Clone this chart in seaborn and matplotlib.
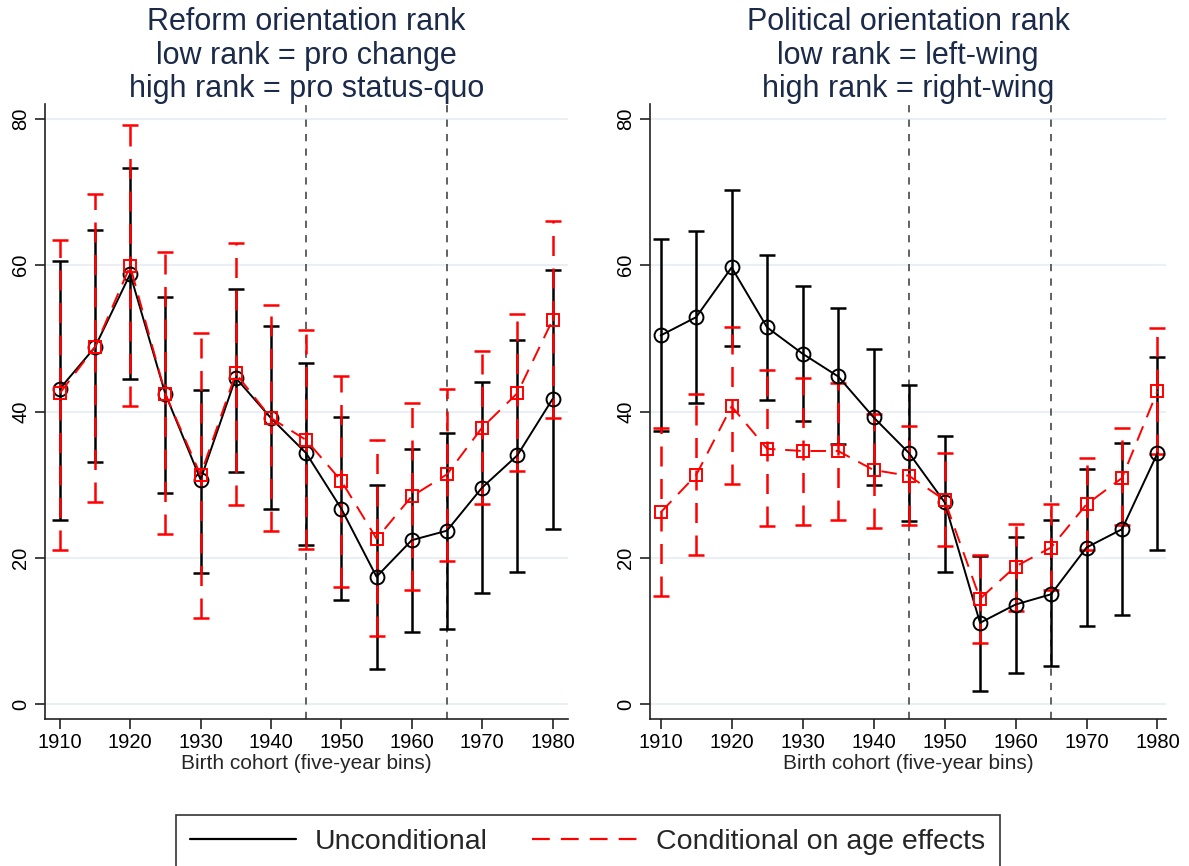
import numpy as np
import pandas as pd
import matplotlib
matplotlib.use("Agg")
import matplotlib.pyplot as plt
from matplotlib.lines import Line2D
import seaborn as sns

# ---------------- data ----------------
cohorts = [1910, 1915, 1920, 1925, 1930, 1935, 1940, 1945, 1950, 1955, 1960, 1965, 1970, 1975, 1980]
xticks = [1910, 1920, 1930, 1940, 1950, 1960, 1970, 1980]
yticks = [0, 20, 40, 60, 80]
breaks = [1945, 1965]

titles = ["Reform orientation rank\nlow rank = pro change\nhigh rank = pro status-quo",
          "Political orientation rank\nlow rank = left-wing\nhigh rank = right-wing"]
xlabel = "Birth cohort (five-year bins)"
series_names = ["Unconditional", "Conditional on age effects"]

left_uncond = [43.1, 48.8, 58.8, 42.4, 30.7, 44.6, 39.1, 34.3, 26.7, 17.4, 22.4, 23.7, 29.6, 34.0, 41.7]
left_uncond_hi = [60.6, 64.8, 73.3, 55.6, 43.0, 56.8, 51.7, 46.7, 39.2, 29.9, 34.9, 37.0, 44.1, 49.8, 59.3]
left_uncond_lo = [25.2, 33.1, 44.4, 28.9, 17.9, 31.7, 26.7, 21.7, 14.2, 4.8, 9.9, 10.2, 15.2, 18.1, 23.9]
left_cond = [42.5, 48.8, 59.9, 42.4, 31.3, 45.2, 39.1, 36.1, 30.5, 22.6, 28.4, 31.4, 37.8, 42.5, 52.5]
left_cond_hi = [63.5, 69.8, 79.2, 61.8, 50.8, 63.0, 54.5, 51.2, 44.9, 36.1, 41.2, 43.1, 48.3, 53.3, 66.0]
left_cond_lo = [21.1, 27.6, 40.7, 23.2, 11.7, 27.2, 23.7, 21.2, 16.0, 9.3, 15.6, 19.6, 27.3, 31.8, 39.1]

right_uncond = [50.4, 52.9, 59.7, 51.5, 47.9, 44.8, 39.2, 34.3, 27.6, 11.1, 13.6, 15.0, 21.4, 23.9, 34.3]
right_uncond_hi = [63.6, 64.7, 70.3, 61.4, 57.2, 54.1, 48.5, 43.6, 36.6, 20.3, 22.9, 25.1, 32.1, 35.7, 47.4]
right_uncond_lo = [37.4, 41.2, 48.9, 41.6, 38.7, 35.5, 30.0, 25.0, 18.0, 1.8, 4.3, 5.2, 10.6, 12.2, 21.1]
right_cond = [26.2, 31.3, 40.7, 34.9, 34.6, 34.6, 32.0, 31.2, 27.9, 14.4, 18.8, 21.4, 27.3, 30.9, 42.8]
right_cond_hi = [37.8, 42.4, 51.5, 45.7, 44.6, 43.9, 39.7, 38.0, 34.3, 20.4, 24.6, 27.3, 33.6, 37.8, 51.4]
right_cond_lo = [14.8, 20.4, 30.1, 24.4, 24.5, 25.2, 24.1, 24.5, 21.6, 8.3, 12.7, 15.6, 21.1, 24.5, 34.2]

# ---------------- style ----------------
sns.set_theme(style="ticks")
plt.rcParams['font.family'] = ['Liberation Sans', 'DejaVu Sans']

W, H = 1189, 866
fig = plt.figure(figsize=(W / 100, H / 100), dpi=100)

def frac_axes(x0, x1, ytop, ybot):
    return [x0 / W, 1 - ybot / H, (x1 - x0) / W, (ybot - ytop) / H]

ax_l = fig.add_axes(frac_axes(45, 568, 104.4, 718.6))
ax_r = fig.add_axes(frac_axes(650, 1166, 104.4, 718.6))

BLACK = "#000000"
RED = "#ff0000"
DASH = (0, (8, 5))
TITLE_C = "#1a2a48"

panels = [
    (ax_l, titles[0], left_uncond, left_uncond_lo, left_uncond_hi,
     left_cond, left_cond_lo, left_cond_hi, (1907.9, 1982.2)),
    (ax_r, titles[1], right_uncond, right_uncond_lo, right_uncond_hi,
     right_cond, right_cond_lo, right_cond_hi, (1908.5, 1981.2)),
]

for ax, title, u, ulo, uhi, c, clo, chi, xl in panels:
    u = np.array(u); ulo = np.array(ulo); uhi = np.array(uhi)
    c = np.array(c); clo = np.array(clo); chi = np.array(chi)
    x = np.array(cohorts)

    for yv in yticks:
        ax.axhline(yv, color="#e9eff5", lw=1.5, zorder=0)
    for b in breaks:
        ax.axvline(b, color="#555555", lw=1.3, ls=(0, (4, 4)), zorder=1)

    # error bars
    ax.errorbar(x, u, yerr=[u - ulo, uhi - u], fmt="none", ecolor=BLACK,
                elinewidth=1.8, capsize=5.5, capthick=1.8, zorder=2)
    eb = ax.errorbar(x, c, yerr=[c - clo, chi - c], fmt="none", ecolor=RED,
                     elinewidth=1.8, capsize=5.5, capthick=1.8, zorder=3)
    eb[2][0].set_linestyle(DASH)

    df_u = pd.DataFrame({"cohort": x, "rank": u})
    df_c = pd.DataFrame({"cohort": x, "rank": c})
    sns.lineplot(data=df_u, x="cohort", y="rank", ax=ax, color=BLACK, lw=1.4,
                 marker="o", markersize=10, mfc="none", mec=BLACK, mew=1.4,
                 legend=False, zorder=4)
    sns.lineplot(data=df_c, x="cohort", y="rank", ax=ax, color=RED, lw=1.4,
                 ls=DASH, marker="s", markersize=9, mfc="none", mec=RED, mew=1.4,
                 legend=False, zorder=5)

    ax.set_xlim(*xl)
    ax.set_ylim(-2, 82)
    ax.set_xticks(xticks)
    ax.set_yticks(yticks)
    ax.set_yticklabels([str(v) for v in yticks], rotation=90, va="center")
    ax.tick_params(axis="both", direction="out", length=7, width=1.2,
                   colors="#222222", labelsize=14.5, labelcolor="black")
    ax.set_xlabel(xlabel, fontsize=15, labelpad=1)
    ax.set_ylabel("")
    for s in ["top", "right"]:
        ax.spines[s].set_visible(False)
    for s in ["left", "bottom"]:
        ax.spines[s].set_color("#222222")
        ax.spines[s].set_linewidth(1.2)
    ax.set_title(title, fontsize=22, color=TITLE_C, linespacing=1.15, pad=3)

handles = [Line2D([], [], color=BLACK, lw=1.6),
           Line2D([], [], color=RED, lw=1.6, ls=DASH)]
leg = fig.legend(handles, series_names, loc="upper center",
                 bbox_to_anchor=(0.4945, 1 - 815 / H), ncol=2, fontsize=20.5,
                 frameon=True, fancybox=False, edgecolor="black",
                 handlelength=3.7, handletextpad=0.67, columnspacing=1.55,
                 borderpad=0.5, borderaxespad=0)
leg.get_frame().set_linewidth(1.2)

fig.savefig("out.png", dpi=100)
